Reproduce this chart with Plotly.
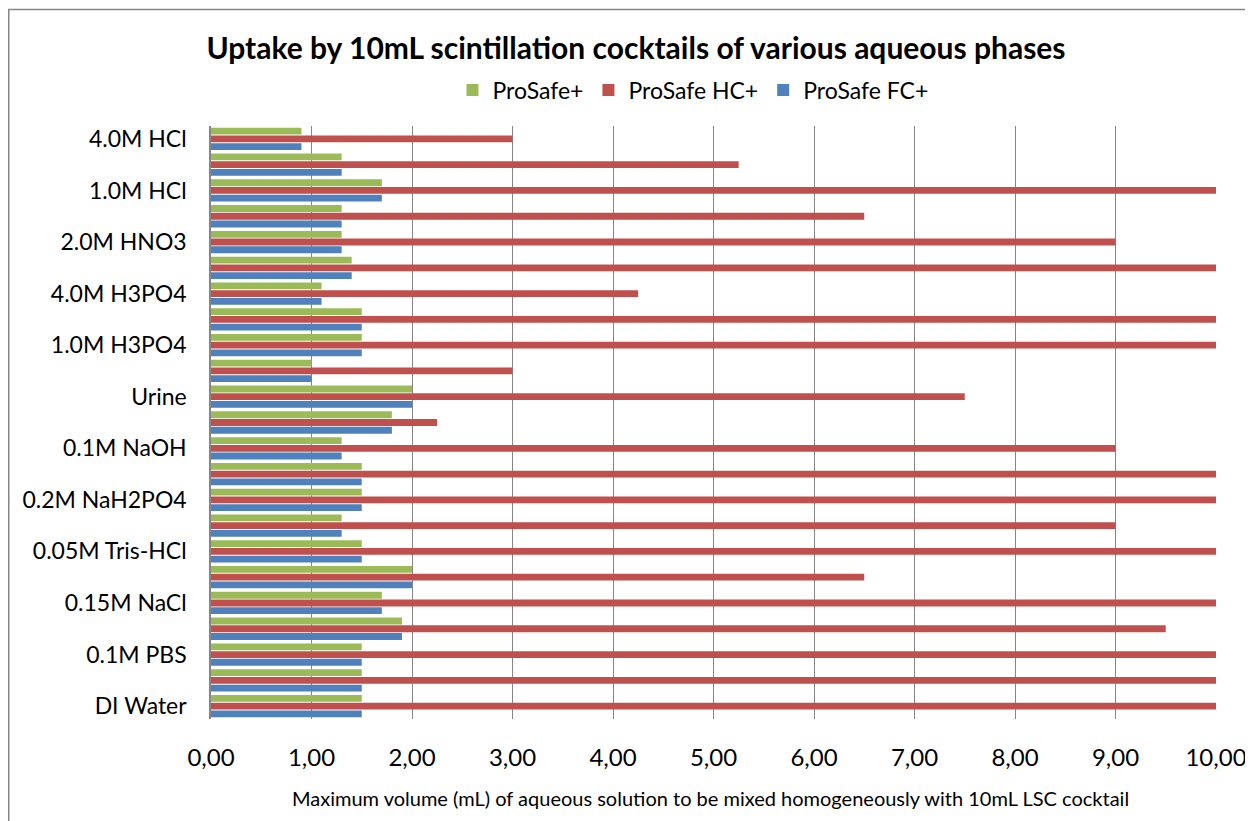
import plotly.graph_objects as go

# Category positions from bottom (0) to top (22); only every other one is labelled
positions = list(range(23))
tick_positions = [0, 2, 4, 6, 8, 10, 12, 14, 16, 18, 20, 22]
tick_labels = ["DI Water", "0.1M PBS", "0.15M NaCl", "0.05M Tris-HCl", "0.2M NaH2PO4",
               "0.1M NaOH", "Urine", "1.0M H3PO4", "4.0M H3PO4", "2.0M HNO3",
               "1.0M HCl", "4.0M HCl"]

# values listed bottom -> top
prosafe_plus = [1.5, 1.5, 1.5, 1.9, 1.7, 2.0, 1.5, 1.3, 1.5, 1.5, 1.3, 1.8,
                2.0, 1.0, 1.5, 1.5, 1.1, 1.4, 1.3, 1.3, 1.7, 1.3, 0.9]
prosafe_hc = [10, 10, 10, 9.5, 10, 6.5, 10, 9.0, 10, 10, 9.0, 2.25,
              7.5, 3.0, 10, 10, 4.25, 10, 9.0, 6.5, 10, 5.25, 3.0]
prosafe_fc = [1.5, 1.5, 1.5, 1.9, 1.7, 2.0, 1.5, 1.3, 1.5, 1.5, 1.3, 1.8,
              2.0, 1.0, 1.5, 1.5, 1.1, 1.4, 1.3, 1.3, 1.7, 1.3, 0.9]

FONT = "Lato, Open Sans, sans-serif"

# plot area in figure pixels
L, R, T, B = 203, 1208, 118, 711
PW, PH = R - L, B - T

fig = go.Figure()
fig.add_trace(go.Bar(y=positions, x=prosafe_fc, orientation="h", name="ProSafe FC+",
                     marker=dict(color="#4F81BD", line=dict(width=0))))
fig.add_trace(go.Bar(y=positions, x=prosafe_hc, orientation="h", name="ProSafe HC+",
                     marker=dict(color="#C0504D", line=dict(width=0))))
fig.add_trace(go.Bar(y=positions, x=prosafe_plus, orientation="h", name="ProSafe+",
                     marker=dict(color="#9BBB59", line=dict(width=0))))

fig.update_layout(
    width=1253, height=821,
    margin=dict(l=L, r=1253 - R, t=T, b=821 - B, autoexpand=False),
    paper_bgcolor="white", plot_bgcolor="white",
    barmode="group", bargap=0.1, bargroupgap=0.12,
    separators=",.",
    font=dict(family=FONT, color="black"),
    title=dict(text="<b>Uptake by 10mL scintillation cocktails of various aqueous phases</b>",
               x=628 / 1253, xref="container", xanchor="center",
               y=1 - 40 / 821, yref="container", yanchor="middle",
               font=dict(size=30, family=FONT, color="black")),
    legend=dict(orientation="h", traceorder="reversed", x=(685 - L) / PW, xanchor="center",
                y=(B - 82) / PH, yanchor="middle", font=dict(size=23, family=FONT),
                itemclick=False, bgcolor="rgba(0,0,0,0)"),
    showlegend=True,
)
fig.update_xaxes(range=[0, 10], dtick=1, tickformat=".2f",
                 showgrid=True, gridcolor="#868686", gridwidth=1.4,
                 zeroline=False, showline=False,
                 tickfont=dict(size=24, family=FONT), ticklabelstandoff=22)
fig.update_yaxes(range=[-0.5, 22.5], tickmode="array", tickvals=tick_positions,
                 ticktext=tick_labels, showgrid=False, zeroline=False,
                 showline=True, linecolor="#868686", linewidth=1.5,
                 tickfont=dict(size=23, family=FONT), ticklabelstandoff=18)

fig.add_annotation(text="Maximum volume (mL) of aqueous solution to be mixed homogeneously with 10mL LSC cocktail",
                   xref="paper", yref="paper", x=(702 - L) / PW, y=(B - 790) / PH,
                   xanchor="center", yanchor="middle", showarrow=False,
                   font=dict(size=20, family=FONT))

# chart border (figure edge, partially cut off at right/bottom like the reference)
fig.add_shape(type="rect", xref="paper", yref="paper",
              x0=(0.75 - L) / PW, x1=(1300 - L) / PW, y0=(B - 900) / PH, y1=(B - 1.5) / PH,
              line=dict(color="#868686", width=1.5), fillcolor="rgba(0,0,0,0)", layer="below")

fig.write_html("out.html")
